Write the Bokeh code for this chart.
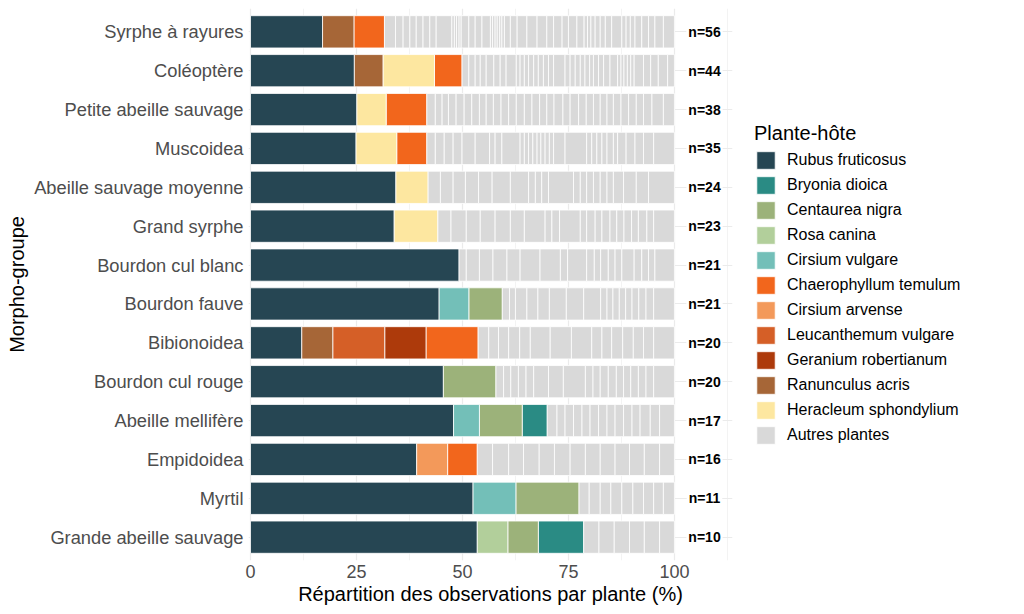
import numpy as np
from bokeh.plotting import figure
from bokeh.models import FactorRange, FixedTicker, Legend, LegendItem, ColumnDataSource
from bokeh.embed import file_html
from bokeh.resources import INLINE
from bokeh.core.properties import value

# ---------------- data ----------------
categories = ["Syrphe à rayures", "Coléoptère", "Petite abeille sauvage", "Muscoidea",
              "Abeille sauvage moyenne", "Grand syrphe", "Bourdon cul blanc", "Bourdon fauve",
              "Bibionoidea", "Bourdon cul rouge", "Abeille mellifère", "Empidoidea", "Myrtil",
              "Grande abeille sauvage"]
n_labels = ["n=56", "n=44", "n=38", "n=35", "n=24", "n=23", "n=21", "n=21",
            "n=20", "n=20", "n=17", "n=16", "n=11", "n=10"]

legend_order = ["Rubus fruticosus", "Bryonia dioica", "Centaurea nigra", "Rosa canina",
                "Cirsium vulgare", "Chaerophyllum temulum", "Cirsium arvense",
                "Leucanthemum vulgare", "Geranium robertianum", "Ranunculus acris",
                "Heracleum sphondylium", "Autres plantes"]
legend_colors = ["#264653", "#2A8B84", "#9CB27A", "#B2CF9B", "#73BFB8", "#F2661C",
                 "#F3995A", "#D55F27", "#AD3A0B", "#A66637", "#FDE7A0", "#D9D9D9"]
stack_order = ["Rubus fruticosus", "Rosa canina", "Cirsium vulgare", "Cirsium arvense",
               "Ranunculus acris", "Leucanthemum vulgare", "Geranium robertianum",
               "Heracleum sphondylium", "Chaerophyllum temulum", "Centaurea nigra",
               "Bryonia dioica"]

# percentages per morpho-group (same order as categories)
rubus           = [17.0, 24.5, 25.1, 24.9, 34.3, 33.9, 49.2, 44.5, 12.1, 45.5, 47.9, 39.2, 52.5, 53.5]
bryonia         = [0, 0, 0, 0, 0, 0, 0, 0, 0, 0, 5.9, 0, 0, 10.7]
centaurea       = [0, 0, 0, 0, 0, 0, 0, 7.9, 0, 12.4, 10.1, 0, 14.9, 7.2]
rosa            = [0, 0, 0, 0, 0, 0, 0, 0, 0, 0, 0, 0, 0, 7.2]
cirsium_vulgare = [0, 0, 0, 0, 0, 0, 0, 7.0, 0, 0, 6.1, 0, 10.1, 0]
chaerophyllum   = [7.2, 6.5, 9.6, 7.1, 0, 0, 0, 0, 12.3, 0, 0, 7.0, 0, 0]
cirsium_arvense = [0, 0, 0, 0, 0, 0, 0, 0, 0, 0, 0, 7.3, 0, 0]
leucanthemum    = [0, 0, 0, 0, 0, 0, 0, 0, 12.3, 0, 0, 0, 0, 0]
geranium        = [0, 0, 0, 0, 0, 0, 0, 0, 9.7, 0, 0, 0, 0, 0]
ranunculus      = [7.4, 6.8, 0, 0, 0, 0, 0, 0, 7.3, 0, 0, 0, 0, 0]
heracleum       = [0, 12.1, 6.9, 9.6, 7.6, 10.3, 0, 0, 0, 0, 0, 0, 0, 0]

# "Autres plantes": one slice per other plant species
autres_syrphe_rayures = [2.6, 1.8, 1.6, 1.5, 1.6, 1.6, 1.5, 3.7, 0.6, 0.5, 0.6, 0.5, 1.8, 1.5, 1.6,
                         2.0, 0.5, 0.6, 0.5, 0.6, 0.5, 0.6, 1.4, 1.6, 2.3, 2.4, 2.3, 1.6, 2.0, 1.5,
                         2.0, 1.7, 0.8, 0.8, 1.0, 1.2, 1.2, 1.5, 2.4, 1.0, 1.0, 1.1, 1.6, 1.6, 1.5,
                         2.0, 2.6]
autres_coleoptere = [1.6, 1.5, 1.2, 1.4, 1.8, 1.5, 1.4, 2.4, 0.9, 1.0, 1.0, 1.2, 1.1, 1.2, 1.2,
                     1.2, 2.7, 1.2, 1.2, 1.2, 1.1, 1.1, 0.9, 1.2, 1.2, 1.5, 1.8, 0.8, 0.7, 0.8,
                     0.8, 0.8, 2.2, 1.7, 1.8, 2.2, 1.6]
autres_petite_abeille = [2.0, 1.6, 1.5, 1.8, 1.9, 1.8, 1.8, 1.6, 1.7, 1.8, 1.8, 1.8, 1.9, 1.8,
                         1.8, 1.7, 1.7, 2.1, 1.7, 2.0, 1.8, 1.7, 1.6, 1.6, 1.5, 1.8, 1.8, 1.8,
                         1.7, 2.0, 2.7, 2.6]
autres_muscoidea = [2.0, 2.1, 2.1, 2.1, 3.1, 3.4, 1.3, 1.6, 4.3, 1.0, 1.0, 1.0, 1.0, 0.9, 1.0,
                    1.0, 1.0, 2.7, 5.1, 1.2, 1.2, 1.2, 1.2, 1.5, 1.0, 2.0, 2.1, 2.0, 2.4, 4.9]
autres_abeille_moyenne = [2.9, 3.0, 2.9, 3.1, 3.2, 4.3, 4.3, 1.6, 1.5, 1.6, 5.9, 1.6, 1.5, 1.6,
                          1.6, 1.6, 1.5, 2.4, 3.0, 2.9, 6.1]
autres_grand_syrphe = [3.1, 3.6, 3.3, 3.5, 3.6, 3.3, 4.9, 1.6, 1.8, 4.9, 1.5, 2.0, 1.6, 1.9,
                       1.6, 1.7, 1.8, 1.6, 2.0, 1.6, 4.9]
autres_cul_blanc = [1.7, 3.1, 3.2, 3.3, 3.1, 4.7, 4.8, 1.7, 4.5, 1.8, 1.5, 1.8, 1.6, 1.6, 2.9,
                    1.8, 1.6, 1.5, 4.6]
autres_fauve = [1.7, 1.4, 2.7, 2.6, 2.7, 4.0, 4.1, 4.0, 1.5, 1.4, 1.5, 1.5, 1.5, 1.6, 1.7, 1.8, 4.9]
autres_bibionoidea = [2.5, 2.3, 2.4, 2.6, 2.5, 4.7, 5.0, 4.8, 2.4, 2.3, 2.6, 2.5, 2.4, 2.4, 4.9]
autres_cul_rouge = [1.8, 1.7, 1.8, 1.8, 1.8, 3.5, 3.5, 5.2, 1.8, 1.7, 1.9, 1.9, 1.7, 1.7, 1.8,
                    1.8, 1.8, 4.9]
autres_mellifere = [2.3, 1.9, 2.0, 2.0, 1.9, 2.0, 2.0, 1.9, 2.0, 2.0, 1.9, 2.4, 2.2, 3.5]
autres_empidoidea = [3.6, 3.8, 3.5, 3.7, 3.6, 3.7, 3.6, 3.5, 3.5, 3.4, 3.5, 3.6, 3.5]
autres_myrtil = [2.4, 2.6, 2.5, 2.6, 2.6, 2.5, 2.4, 2.3, 2.6]
autres_grande_abeille = [3.6, 3.6, 3.6, 3.5, 3.6, 3.5]

# ---------------- build segments ----------------
plant_values = {
    "Rubus fruticosus": rubus, "Bryonia dioica": bryonia, "Centaurea nigra": centaurea,
    "Rosa canina": rosa, "Cirsium vulgare": cirsium_vulgare,
    "Chaerophyllum temulum": chaerophyllum, "Cirsium arvense": cirsium_arvense,
    "Leucanthemum vulgare": leucanthemum, "Geranium robertianum": geranium,
    "Ranunculus acris": ranunculus, "Heracleum sphondylium": heracleum,
}
autres_slices = [autres_syrphe_rayures, autres_coleoptere, autres_petite_abeille,
                 autres_muscoidea, autres_abeille_moyenne, autres_grand_syrphe,
                 autres_cul_blanc, autres_fauve, autres_bibionoidea, autres_cul_rouge,
                 autres_mellifere, autres_empidoidea, autres_myrtil, autres_grande_abeille]

segments = {name: dict(y=[], left=[], right=[]) for name in legend_order}
for i, cat in enumerate(categories):
    parts = [(name, plant_values[name][i]) for name in stack_order if plant_values[name][i] > 0]
    parts += [("Autres plantes", v) for v in autres_slices[i]]
    widths = np.array([v for _, v in parts])
    ends = np.cumsum(widths)
    starts = ends - widths
    for (name, _), s, e in zip(parts, starts, ends):
        segments[name]["y"].append(cat)
        segments[name]["left"].append(float(s))
        segments[name]["right"].append(float(e))

# ---------------- figure ----------------
FONT = "Liberation Sans"
label_x = 107.1

p = figure(
    y_range=FactorRange(factors=categories[::-1], range_padding=0.1,
                        range_padding_units="absolute"),
    x_range=(-0.47, 113.7),
    frame_width=484, frame_height=552,
    min_border_left=248, min_border_right=290, min_border_top=8, min_border_bottom=0,
    output_backend="svg", toolbar_location=None,
)
p.outline_line_color = None
p.background_fill_color = "white"
p.border_fill_color = "white"

# grid
p.xaxis.ticker = FixedTicker(ticks=[0, 25, 50, 75, 100],
                             minor_ticks=[12.5, 37.5, 62.5, 87.5, 112.5])
p.xgrid.grid_line_color = "#EBEBEB"
p.xgrid.grid_line_width = 1.2
p.xgrid.minor_grid_line_color = "#EBEBEB"
p.xgrid.minor_grid_line_width = 0.6
p.ygrid.grid_line_color = "#EBEBEB"
p.ygrid.grid_line_width = 1.2

items = []
for name, col in zip(legend_order, legend_colors):
    src = ColumnDataSource(segments[name])
    r = p.hbar(y="y", left="left", right="right", height=0.83, source=src,
               fill_color=col, line_color="white", line_width=0.8)
    items.append(LegendItem(label=name, renderers=[r]))

# n labels
p.text(x=[label_x] * len(categories), y=categories, text=n_labels,
       text_align="center", text_baseline="middle",
       text_font=value(FONT), text_font_style="bold", text_font_size="14px",
       text_color="black", background_fill_color="white", padding=2)

# axes
for ax in (p.xaxis[0], p.yaxis[0]):
    ax.axis_line_color = None
    ax.major_tick_line_color = None
    ax.minor_tick_line_color = None
    ax.major_tick_out = 0
    ax.minor_tick_out = 0
    ax.major_label_text_font = FONT
    ax.major_label_text_color = "#4D4D4D"
    ax.axis_label_text_font = FONT
    ax.axis_label_text_font_size = "20px"
    ax.axis_label_text_font_style = "normal"
    ax.axis_label_text_color = "black"

p.xaxis.major_label_text_font_size = "18px"
p.yaxis.major_label_text_font_size = "18.3px"
p.xaxis.axis_label = "Répartition des observations par plante (%)"
p.xaxis.major_label_standoff = 4
p.xaxis.axis_label_standoff = 2
p.yaxis.axis_label = "Morpho-groupe"
p.yaxis.major_label_standoff = 5
p.yaxis.axis_label_standoff = 3

legend = Legend(items=items, location="center_left", title="Plante-hôte",
                title_text_font=FONT, title_text_font_size="20px",
                title_text_font_style="normal", title_text_color="black",
                title_standoff=4,
                label_text_font=FONT, label_text_font_size="16px", label_text_color="black",
                glyph_width=23, glyph_height=22, label_height=22, spacing=3,
                label_standoff=10, padding=10, margin=22,
                border_line_color=None, background_fill_alpha=0)
p.add_layout(legend, "right")

open("out.html", "w").write(file_html(p, INLINE))
